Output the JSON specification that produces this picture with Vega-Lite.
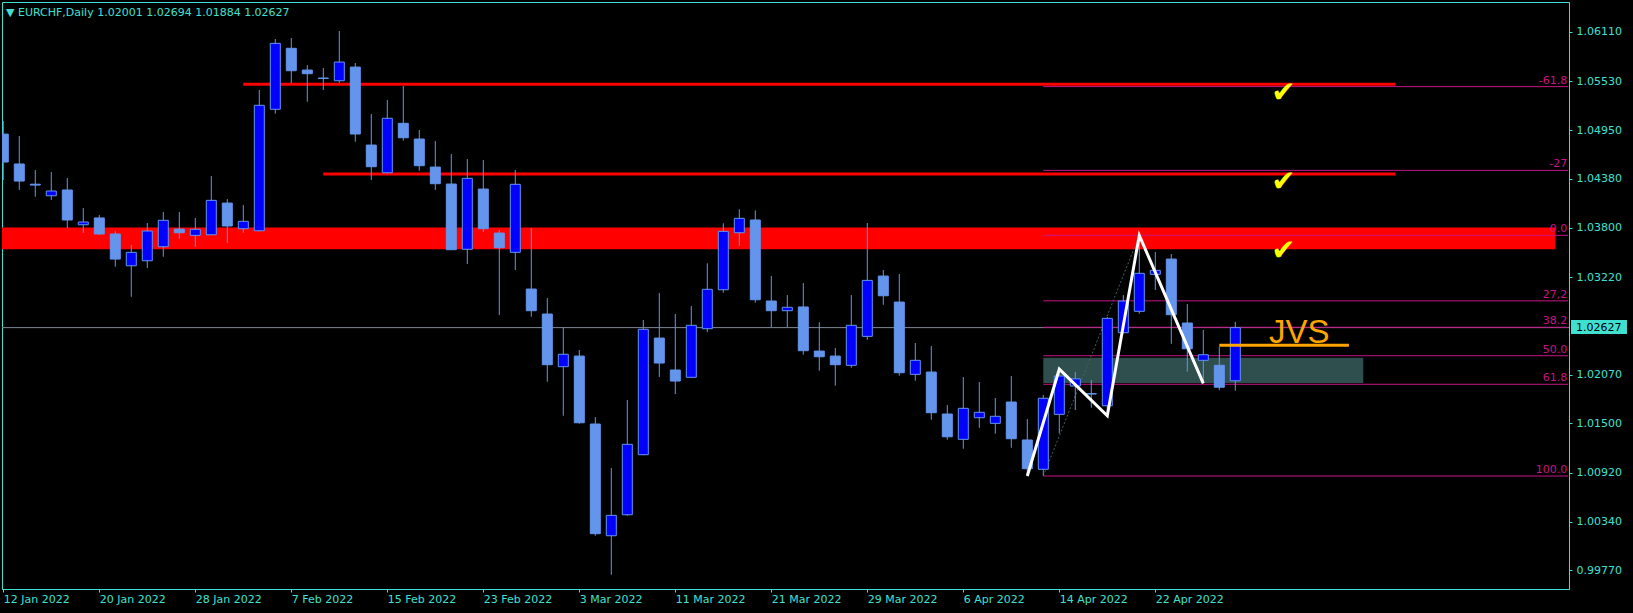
{
  "$schema": "https://vega.github.io/schema/vega-lite/v6.json",
  "width": 1567,
  "height": 587,
  "autosize": {"type": "none"},
  "padding": {"left": 2, "top": 2, "right": 64, "bottom": 24},
  "background": "#000000",
  "config": {
    "view": {"stroke": "#40E0D0", "strokeWidth": 1}
  },
  "resolve": {"axis": {"x": "independent", "y": "independent"}},
  "datasets": {
    "candles": [
      {"i":0,"o":1.04905,"h":1.05059,"l":1.04364,"c":1.04576},
      {"i":1,"o":1.04553,"h":1.04882,"l":1.04247,"c":1.04352},
      {"i":2,"o":1.04315,"h":1.04482,"l":1.04168,"c":1.04305},
      {"i":3,"o":1.04179,"h":1.04458,"l":1.04129,"c":1.04235},
      {"i":4,"o":1.04247,"h":1.04388,"l":1.038,"c":1.03894},
      {"i":5,"o":1.03838,"h":1.04035,"l":1.03744,"c":1.0387},
      {"i":6,"o":1.03918,"h":1.03953,"l":1.03717,"c":1.03729},
      {"i":7,"o":1.03729,"h":1.03764,"l":1.03344,"c":1.03434},
      {"i":8,"o":1.03355,"h":1.03599,"l":1.0299,"c":1.03513},
      {"i":9,"o":1.03414,"h":1.03858,"l":1.03328,"c":1.03764},
      {"i":10,"o":1.03579,"h":1.03988,"l":1.03461,"c":1.0389},
      {"i":11,"o":1.03787,"h":1.03988,"l":1.03673,"c":1.03744},
      {"i":12,"o":1.03713,"h":1.03918,"l":1.03579,"c":1.03784},
      {"i":13,"o":1.0372,"h":1.04411,"l":1.03715,"c":1.04125},
      {"i":14,"o":1.04093,"h":1.0414,"l":1.03623,"c":1.03823},
      {"i":15,"o":1.03791,"h":1.0407,"l":1.03744,"c":1.03878},
      {"i":16,"o":1.03767,"h":1.05424,"l":1.0376,"c":1.05244},
      {"i":17,"o":1.05197,"h":1.06024,"l":1.05145,"c":1.05973},
      {"i":18,"o":1.05915,"h":1.06036,"l":1.05506,"c":1.05651},
      {"i":19,"o":1.05659,"h":1.05718,"l":1.05286,"c":1.05616},
      {"i":20,"o":1.05565,"h":1.05683,"l":1.05424,"c":1.0556},
      {"i":21,"o":1.05533,"h":1.06118,"l":1.0551,"c":1.05753},
      {"i":22,"o":1.05694,"h":1.05742,"l":1.04815,"c":1.04906},
      {"i":23,"o":1.04776,"h":1.05141,"l":1.04364,"c":1.04521},
      {"i":24,"o":1.0445,"h":1.05306,"l":1.0444,"c":1.05091},
      {"i":25,"o":1.05032,"h":1.05471,"l":1.04827,"c":1.04862},
      {"i":26,"o":1.04847,"h":1.04953,"l":1.04474,"c":1.04533},
      {"i":27,"o":1.04517,"h":1.04823,"l":1.04247,"c":1.04321},
      {"i":28,"o":1.04317,"h":1.0467,"l":1.0354,"c":1.03544},
      {"i":29,"o":1.03549,"h":1.04611,"l":1.03375,"c":1.04384},
      {"i":30,"o":1.04258,"h":1.04599,"l":1.03752,"c":1.03791},
      {"i":31,"o":1.0374,"h":1.03776,"l":1.02775,"c":1.03567},
      {"i":32,"o":1.03513,"h":1.04482,"l":1.03305,"c":1.04314},
      {"i":33,"o":1.03081,"h":1.03799,"l":1.02755,"c":1.02826},
      {"i":34,"o":1.02787,"h":1.02975,"l":1.0199,"c":1.0219},
      {"i":35,"o":1.02167,"h":1.0263,"l":1.0159,"c":1.02313},
      {"i":36,"o":1.02292,"h":1.02363,"l":1.01496,"c":1.01507},
      {"i":37,"o":1.01492,"h":1.01574,"l":1.00177,"c":1.00201},
      {"i":38,"o":1.00177,"h":1.00974,"l":0.99718,"c":1.00417},
      {"i":39,"o":1.00424,"h":1.01775,"l":1.00412,"c":1.01253},
      {"i":40,"o":1.01131,"h":1.02716,"l":1.01125,"c":1.02607},
      {"i":41,"o":1.02504,"h":1.03034,"l":1.02045,"c":1.0221},
      {"i":42,"o":1.02128,"h":1.02787,"l":1.01845,"c":1.01998},
      {"i":43,"o":1.02042,"h":1.02881,"l":1.02035,"c":1.02654},
      {"i":44,"o":1.02614,"h":1.03384,"l":1.02575,"c":1.03078},
      {"i":45,"o":1.03073,"h":1.03855,"l":1.03038,"c":1.0376},
      {"i":46,"o":1.03744,"h":1.04019,"l":1.03591,"c":1.03913},
      {"i":47,"o":1.03894,"h":1.04007,"l":1.0292,"c":1.02955},
      {"i":48,"o":1.0294,"h":1.03234,"l":1.02634,"c":1.02826},
      {"i":49,"o":1.02826,"h":1.0301,"l":1.02634,"c":1.02866},
      {"i":50,"o":1.0287,"h":1.03152,"l":1.02308,"c":1.02355},
      {"i":51,"o":1.02351,"h":1.0269,"l":1.02119,"c":1.02284},
      {"i":52,"o":1.02292,"h":1.02387,"l":1.01943,"c":1.0219},
      {"i":53,"o":1.02183,"h":1.0301,"l":1.02155,"c":1.02654},
      {"i":54,"o":1.02524,"h":1.03858,"l":1.02484,"c":1.03183},
      {"i":55,"o":1.03234,"h":1.03305,"l":1.02896,"c":1.03002},
      {"i":56,"o":1.02928,"h":1.03258,"l":1.02061,"c":1.02096},
      {"i":57,"o":1.02077,"h":1.02446,"l":1.02002,"c":1.02242},
      {"i":58,"o":1.02104,"h":1.0241,"l":1.01543,"c":1.01625},
      {"i":59,"o":1.0161,"h":1.01716,"l":1.01307,"c":1.01342},
      {"i":60,"o":1.01312,"h":1.02045,"l":1.01201,"c":1.01677},
      {"i":61,"o":1.01566,"h":1.01986,"l":1.01448,"c":1.0163},
      {"i":62,"o":1.015,"h":1.01798,"l":1.01378,"c":1.01583},
      {"i":63,"o":1.01751,"h":1.02057,"l":1.01213,"c":1.01319},
      {"i":64,"o":1.01304,"h":1.01551,"l":1.0088,"c":1.00966},
      {"i":65,"o":1.00959,"h":1.01834,"l":1.00888,"c":1.01795},
      {"i":66,"o":1.01606,"h":1.02139,"l":1.01382,"c":1.02057},
      {"i":67,"o":1.01939,"h":1.02106,"l":1.01657,"c":1.02024},
      {"i":68,"o":1.0185,"h":1.0201,"l":1.01684,"c":1.01845},
      {"i":69,"o":1.01707,"h":1.0275,"l":1.0159,"c":1.02736},
      {"i":70,"o":1.02567,"h":1.0301,"l":1.0256,"c":1.0294},
      {"i":71,"o":1.02819,"h":1.03713,"l":1.0279,"c":1.03266},
      {"i":72,"o":1.03254,"h":1.03517,"l":1.0307,"c":1.03301},
      {"i":73,"o":1.03434,"h":1.03493,"l":1.02437,"c":1.02779},
      {"i":74,"o":1.02681,"h":1.02904,"l":1.02108,"c":1.02378},
      {"i":75,"o":1.02242,"h":1.02599,"l":1.01971,"c":1.02308},
      {"i":76,"o":1.02183,"h":1.024,"l":1.0189,"c":1.01925},
      {"i":77,"o":1.02001,"h":1.02694,"l":1.01884,"c":1.02627}
    ],
    "zones": [{"i1": -1, "i2": 97, "p1": 1.0355, "p2": 1.03805}],
    "boxes": [{"i1": 65, "i2": 85, "p1": 1.01974, "p2": 1.02272}],
    "redlines": [{"i1": 15, "i2": 87, "p": 1.05491}, {"i1": 20, "i2": 87, "p": 1.04435}],
    "price": [{"p": 1.02627}],
    "fib": [
      {"p": 1.05464, "t": "-61.8"},
      {"p": 1.04478, "t": "-27"},
      {"p": 1.03713, "t": "0.0"},
      {"p": 1.02942, "t": "27,2"},
      {"p": 1.02631, "t": "38.2"},
      {"p": 1.02296, "t": "50.0"},
      {"p": 1.0196, "t": "61.8"},
      {"p": 1.0088, "t": "100.0"}
    ],
    "fibdiag": [{"i": 65, "p": 1.0088}, {"i": 71, "p": 1.03713}],
    "zigzag": [{"i": 64, "p": 1.0088}, {"i": 66, "p": 1.02139}, {"i": 69, "p": 1.0159}, {"i": 71, "p": 1.03713}, {"i": 75, "p": 1.01971}],
    "orange": [{"i1": 76, "i2": 84.1, "p": 1.02418}],
    "checks": [{"i": 80, "p": 1.05385}, {"i": 80, "p": 1.04344}, {"i": 80, "p": 1.03532}],
    "labels": [{"i": 81, "p": 1.02449, "t": "JVS"}],
    "header": [{"t": "▼   EURCHF,Daily  1.02001 1.02694 1.01884 1.02627"}]
  },
  "layer": [
    {
      "data": {"name": "zones"},
      "mark": {"type": "rect", "color": "#FF0000", "clip": true},
      "encoding": {
        "x": {"field": "i1", "type": "quantitative", "scale": {"domain": [-0.081, 97.856], "nice": false, "zero": false, "padding": 0},
          "axis": {"orient": "bottom", "title": null, "grid": false, "values": [0,6,12,18,24,30,36,42,48,54,60,66,72],
            "labelExpr": "['12 Jan 2022','20 Jan 2022','28 Jan 2022','7 Feb 2022','15 Feb 2022','23 Feb 2022','3 Mar 2022','11 Mar 2022','21 Mar 2022','29 Mar 2022','6 Apr 2022','14 Apr 2022','22 Apr 2022'][round(datum.value/6)]",
            "labelAlign": "left", "labelBaseline": "top", "labelPadding": 1, "labelFlush": false, "labelOverlap": false,
            "labelFont": "DejaVu Sans", "labelFontSize": 11, "labelColor": "#40E0D0", "domainColor": "#40E0D0", "tickColor": "#40E0D0", "tickSize": 3}},
        "x2": {"field": "i2"},
        "y": {"field": "p1", "type": "quantitative", "scale": {"domain": [0.9955, 1.0646], "nice": false, "zero": false, "padding": 0},
          "axis": {"orient": "right", "title": null, "grid": false, "values": [0.9977, 1.0034, 1.0092, 1.015, 1.0207, 1.0322, 1.038, 1.0438, 1.0495, 1.0553, 1.0611],
            "format": ".5f", "labelPadding": 4, "labelBaseline": "middle", "labelOverlap": false, "labelFlush": false,
            "labelFont": "DejaVu Sans", "labelFontSize": 11, "labelColor": "#40E0D0", "domainColor": "#40E0D0", "tickColor": "#40E0D0", "tickSize": 3}},
        "y2": {"field": "p2"}
      }
    },
    {
      "data": {"name": "redlines"},
      "mark": {"type": "rule", "color": "#FF0000", "strokeWidth": 3, "clip": true},
      "encoding": {
        "x": {"field": "i1", "type": "quantitative", "scale": {"domain": [-0.081, 97.856], "nice": false, "zero": false, "padding": 0}, "axis": null},
        "x2": {"field": "i2"},
        "y": {"field": "p", "type": "quantitative", "scale": {"domain": [0.9955, 1.0646], "nice": false, "zero": false, "padding": 0}, "axis": null}
      }
    },
    {
      "data": {"name": "price"},
      "mark": {"type": "rule", "color": "#7D8A96", "strokeWidth": 1, "clip": true},
      "encoding": {
        "y": {"field": "p", "type": "quantitative", "scale": {"domain": [0.9955, 1.0646], "nice": false, "zero": false, "padding": 0}, "axis": null}
      }
    },
    {
      "data": {"name": "boxes"},
      "mark": {"type": "rect", "color": "#2F4F4F", "clip": true},
      "encoding": {
        "x": {"field": "i1", "type": "quantitative", "scale": {"domain": [-0.081, 97.856], "nice": false, "zero": false, "padding": 0}, "axis": null},
        "x2": {"field": "i2"},
        "y": {"field": "p1", "type": "quantitative", "scale": {"domain": [0.9955, 1.0646], "nice": false, "zero": false, "padding": 0}, "axis": null},
        "y2": {"field": "p2"}
      }
    },
    {
      "data": {"name": "fib"},
      "mark": {"type": "rule", "color": "#C71585", "strokeWidth": 1, "clip": true},
      "encoding": {
        "x": {"datum": 65, "type": "quantitative", "scale": {"domain": [-0.081, 97.856], "nice": false, "zero": false, "padding": 0}, "axis": null},
        "x2": {"datum": 97.8},
        "y": {"field": "p", "type": "quantitative", "scale": {"domain": [0.9955, 1.0646], "nice": false, "zero": false, "padding": 0}, "axis": null}
      }
    },
    {
      "data": {"name": "fibdiag"},
      "mark": {"type": "line", "color": "#3F6363", "strokeWidth": 1, "strokeDash": [2, 2], "clip": true},
      "encoding": {
        "x": {"field": "i", "type": "quantitative", "scale": {"domain": [-0.081, 97.856], "nice": false, "zero": false, "padding": 0}, "axis": null},
        "y": {"field": "p", "type": "quantitative", "scale": {"domain": [0.9955, 1.0646], "nice": false, "zero": false, "padding": 0}, "axis": null},
        "order": {"field": "i"}
      }
    },
    {
      "data": {"name": "candles"},
      "mark": {"type": "rule", "color": "#6495ED", "strokeWidth": 1, "clip": true},
      "encoding": {
        "x": {"field": "i", "type": "quantitative", "scale": {"domain": [-0.081, 97.856], "nice": false, "zero": false, "padding": 0}, "axis": null},
        "y": {"field": "l", "type": "quantitative", "scale": {"domain": [0.9955, 1.0646], "nice": false, "zero": false, "padding": 0}, "axis": null},
        "y2": {"field": "h"}
      }
    },
    {
      "data": {"name": "candles"},
      "mark": {"type": "bar", "width": 10, "stroke": "#6495ED", "strokeWidth": 1, "clip": true},
      "encoding": {
        "x": {"field": "i", "type": "quantitative", "scale": {"domain": [-0.081, 97.856], "nice": false, "zero": false, "padding": 0}, "axis": null},
        "y": {"field": "o", "type": "quantitative", "scale": {"domain": [0.9955, 1.0646], "nice": false, "zero": false, "padding": 0}, "axis": null},
        "y2": {"field": "c"},
        "fill": {"condition": {"test": "datum.c >= datum.o", "value": "#0000FF"}, "value": "#6495ED"}
      }
    },
    {
      "data": {"name": "zigzag"},
      "mark": {"type": "line", "color": "#FFFFFF", "strokeWidth": 3, "clip": true},
      "encoding": {
        "x": {"field": "i", "type": "quantitative", "scale": {"domain": [-0.081, 97.856], "nice": false, "zero": false, "padding": 0}, "axis": null},
        "y": {"field": "p", "type": "quantitative", "scale": {"domain": [0.9955, 1.0646], "nice": false, "zero": false, "padding": 0}, "axis": null},
        "order": {"field": "i"}
      }
    },
    {
      "data": {"name": "orange"},
      "mark": {"type": "rule", "color": "#FFA500", "strokeWidth": 3, "clip": true},
      "encoding": {
        "x": {"field": "i1", "type": "quantitative", "scale": {"domain": [-0.081, 97.856], "nice": false, "zero": false, "padding": 0}, "axis": null},
        "x2": {"field": "i2"},
        "y": {"field": "p", "type": "quantitative", "scale": {"domain": [0.9955, 1.0646], "nice": false, "zero": false, "padding": 0}, "axis": null}
      }
    },
    {
      "data": {"name": "fib"},
      "mark": {"type": "text", "color": "#C71585", "font": "DejaVu Sans", "fontSize": 11, "align": "right", "baseline": "alphabetic", "dy": -3, "clip": true},
      "encoding": {
        "x": {"datum": 97.75, "type": "quantitative", "scale": {"domain": [-0.081, 97.856], "nice": false, "zero": false, "padding": 0}, "axis": null},
        "y": {"field": "p", "type": "quantitative", "scale": {"domain": [0.9955, 1.0646], "nice": false, "zero": false, "padding": 0}, "axis": null},
        "text": {"field": "t"}
      }
    },
    {
      "data": {"name": "checks"},
      "mark": {"type": "text", "text": "✔", "color": "#FFFF00", "font": "DejaVu Sans", "fontSize": 29, "align": "center", "baseline": "middle", "clip": true},
      "encoding": {
        "x": {"field": "i", "type": "quantitative", "scale": {"domain": [-0.081, 97.856], "nice": false, "zero": false, "padding": 0}, "axis": null},
        "y": {"field": "p", "type": "quantitative", "scale": {"domain": [0.9955, 1.0646], "nice": false, "zero": false, "padding": 0}, "axis": null}
      }
    },
    {
      "data": {"name": "labels"},
      "mark": {"type": "text", "color": "#FFA500", "font": "Liberation Sans", "fontSize": 33, "align": "center", "baseline": "alphabetic", "clip": true},
      "encoding": {
        "x": {"field": "i", "type": "quantitative", "scale": {"domain": [-0.081, 97.856], "nice": false, "zero": false, "padding": 0}, "axis": null},
        "y": {"field": "p", "type": "quantitative", "scale": {"domain": [0.9955, 1.0646], "nice": false, "zero": false, "padding": 0}, "axis": null},
        "text": {"field": "t"}
      }
    },
    {
      "data": {"name": "price"},
      "mark": {"type": "rect", "color": "#40E0D0", "clip": false},
      "encoding": {
        "x": {"datum": 97.98, "type": "quantitative", "scale": {"domain": [-0.081, 97.856], "nice": false, "zero": false, "padding": 0}, "axis": null},
        "x2": {"datum": 101.48},
        "y": {"datum": 1.02716, "type": "quantitative", "scale": {"domain": [0.9955, 1.0646], "nice": false, "zero": false, "padding": 0}, "axis": null},
        "y2": {"datum": 1.02551}
      }
    },
    {
      "data": {"name": "price"},
      "mark": {"type": "text", "color": "#000000", "font": "DejaVu Sans", "fontSize": 11, "align": "left", "baseline": "middle", "clip": false},
      "encoding": {
        "x": {"datum": 98.29, "type": "quantitative", "scale": {"domain": [-0.081, 97.856], "nice": false, "zero": false, "padding": 0}, "axis": null},
        "y": {"field": "p", "type": "quantitative", "scale": {"domain": [0.9955, 1.0646], "nice": false, "zero": false, "padding": 0}, "axis": null},
        "text": {"field": "p", "type": "quantitative", "format": ".5f"}
      }
    },
    {
      "data": {"name": "header"},
      "mark": {"type": "text", "color": "#40E0D0", "font": "DejaVu Sans", "fontSize": 11, "align": "left", "baseline": "middle", "clip": true},
      "encoding": {
        "x": {"datum": 0.17, "type": "quantitative", "scale": {"domain": [-0.081, 97.856], "nice": false, "zero": false, "padding": 0}, "axis": null},
        "y": {"datum": 1.06334, "type": "quantitative", "scale": {"domain": [0.9955, 1.0646], "nice": false, "zero": false, "padding": 0}, "axis": null},
        "text": {"field": "t"}
      }
    }
  ]
}
